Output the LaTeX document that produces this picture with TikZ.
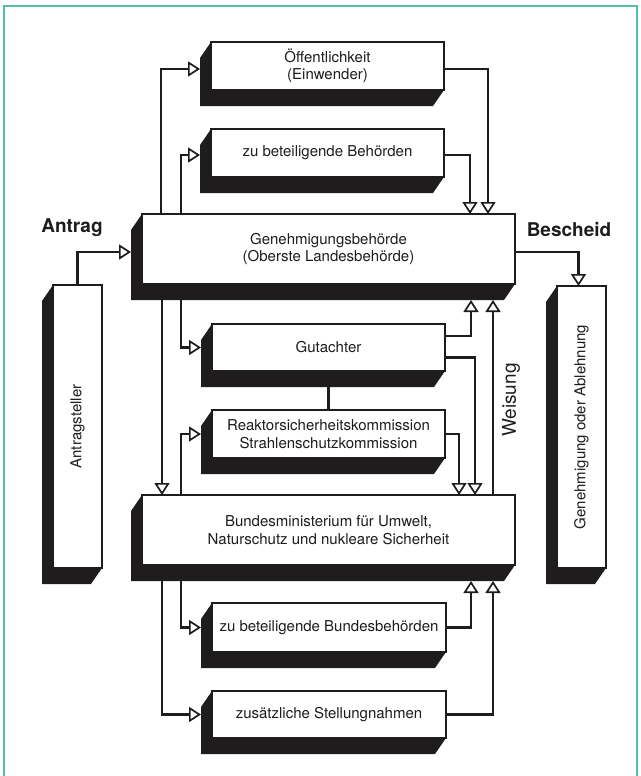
\documentclass[tikz,border=0pt]{standalone}
\usepackage{fontspec}
\setmainfont{TeX Gyre Heros}
\usetikzlibrary{arrows.meta}
\definecolor{framec}{RGB}{82,193,176}
\definecolor{ink}{RGB}{30,28,29}
\tikzset{
  boxst/.style={draw=ink, fill=white, line width=2pt, inner sep=0pt, outer sep=0pt,
    align=center, text=ink, font=\fontsize{15}{17.5}\selectfont},
  conn/.style={draw=ink, line width=2.6pt},
  arr/.style={conn, -{Triangle[length=12pt,width=15pt,fill=white,line width=1.7pt]}},
  lbl/.style={text=ink, font=\bfseries\fontsize{19}{22}\selectfont}
}
\newcommand\ddbox[6]{%
  \fill[ink] (#2,#3) -- ({#2-11},{#3+16}) -- ({#2-11},{#5+16}) -- ({#4-11},{#5+16}) -- (#4,#5) -- cycle;
  \node[boxst, minimum width={(#4-#2)*1pt}, minimum height={(#5-#3)*1pt}] (#1) at ({(#2+#4)/2},{(#3+#5)/2}) {#6};
}
\begin{document}
\begin{tikzpicture}[x=1pt,y=-1pt]
\useasboundingbox (0,0) rectangle (640,776);
\draw[framec, line width=2.2pt] (4,776) -- (4,6) -- (637,6) -- (637,776);

\ddbox{oe}{211}{42}{444}{90}{Öffentlichkeit\\(Einwender)}
\ddbox{zb}{211}{129}{444}{177}{zu beteiligende Behörden}
\ddbox{gb}{142}{214}{515}{284}{Genehmigungsbehörde\\(Oberste Landesbehörde)}
\ddbox{gu}{212}{324}{445}{371}{Gutachter}
\ddbox{rk}{212}{410}{445}{458}{Reaktorsicherheitskommission\\Strahlenschutzkommission}
\ddbox{bm}{142}{495}{515}{565}{Bundesministerium für Umwelt,\\Naturschutz und nukleare Sicherheit}
\ddbox{zbb}{212}{603}{446}{652}{zu beteiligende Bundesbehörden}
\ddbox{zs}{212}{691}{446}{738}{zusätzliche Stellungnahmen}
\ddbox{as}{53}{285}{102}{568}{\rotatebox{90}{Antragsteller}}
\ddbox{ga}{557}{286}{606}{568}{\rotatebox{90}{Genehmigung oder Ablehnung}}

\node[lbl] (antrag) at (72,228) {Antrag};
\node[lbl] (bescheid) at (569,230) {Bescheid};
\node[rotate=90, text=ink, font=\fontsize{19}{22}\selectfont] (weisung) at (511,400) {Weisung};

% Genehmigungsbehoerde top
\draw[arr] ([xshift=19pt]gb.north west) |- ([xshift=-11pt,yshift=-3pt]oe.west);
\draw[arr] ([xshift=39pt]gb.north west) |- ([xshift=-11pt,yshift=-2pt]zb.west);
\draw[arr] ([yshift=-3pt]oe.east) -| ([xshift=-27pt]gb.north east);
\draw[arr] ([yshift=-2pt]zb.east) -| ([xshift=-45pt]gb.north east);
% Antrag / Bescheid
\draw[arr] (as.north) |- ([xshift=-11pt,yshift=-3pt]gb.west);
\draw[arr] ([yshift=-3pt]gb.east) -| ([xshift=-3pt]ga.north);
% between gb and bm
\draw[arr] ([xshift=20pt,yshift=-16pt]gb.south west) -- ([xshift=20pt]bm.north west);
\draw[arr] ([xshift=39pt,yshift=-16pt]gb.south west) |- ([xshift=-11pt]gu.west);
\draw[arr] ([yshift=11.5pt]gu.east) -| ([xshift=-44pt,yshift=-16pt]gb.south east);
\draw[arr] ([xshift=-22pt]bm.north east) -- ([xshift=-22pt,yshift=-16pt]gb.south east);
\draw[arr] ([yshift=-10pt]gu.east) -| ([xshift=-40pt]bm.north east);
\draw[arr] (rk.east) -| ([xshift=-56pt]bm.north east);
\draw[arr] ([xshift=39pt]bm.north west) |- ([xshift=-11pt]rk.west);
\draw[conn] ([yshift=-16pt]gu.south) -- (rk.north);
% below bm
\draw[arr] ([xshift=39pt,yshift=-16pt]bm.south west) |- ([xshift=-11pt]zbb.west);
\draw[arr] ([xshift=20pt,yshift=-16pt]bm.south west) |- ([xshift=-11pt]zs.west);
\draw[arr] (zbb.east) -| ([xshift=-44pt,yshift=-16pt]bm.south east);
\draw[arr] (zs.east) -| ([xshift=-22pt,yshift=-16pt]bm.south east);
\end{tikzpicture}
\end{document}
